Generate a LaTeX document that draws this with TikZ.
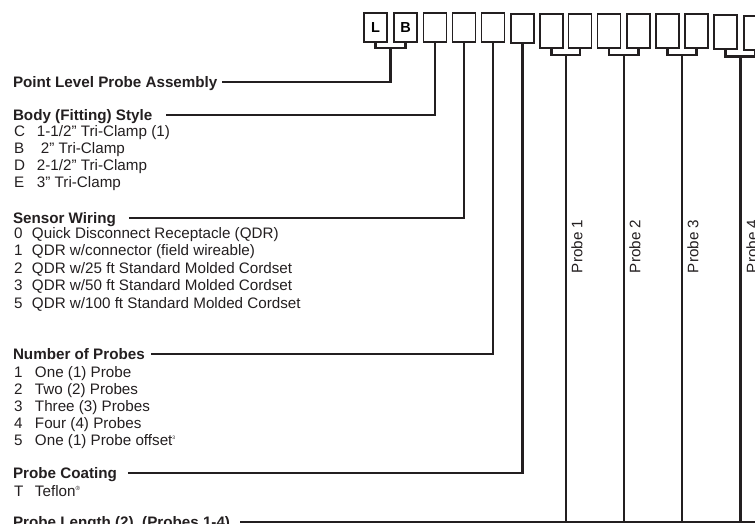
\documentclass[tikz,border=0pt]{standalone}
\usepackage{fontspec}
\setmainfont{Liberation Sans}
\usetikzlibrary{calc}
\definecolor{ink}{RGB}{35,31,32}
\begin{document}
\begin{tikzpicture}[x=1pt,y=-1pt,
  hd/.style={font=\fontsize{15.2}{17}\selectfont\bfseries, text=ink, inner sep=0pt, outer sep=0pt, text height=10.9pt, text depth=0pt, anchor=west},
  itm/.style={font=\fontsize{15.2}{17}\selectfont, text=ink, inner sep=0pt, outer sep=0pt, text height=10.9pt, text depth=0pt, anchor=west},
  lead/.style={draw=ink, line width=2.2pt},
  bx/.style={draw=ink, line width=1.3pt, minimum width=23pt, minimum height=29pt, inner sep=0pt, outer sep=0pt, font=\fontsize{14.5}{14.5}\selectfont\bfseries, text=black},
  pbx/.style={bx, minimum height=34pt},
  plabel/.style={itm, rotate=90}
]
\useasboundingbox (0,0) rectangle (755,523);
\clip (0,0) rectangle (755,523);

% code boxes
\node[bx] (b1) at (375.5,27.5) {L};
\node[bx] (b2) at (405.5,27.5) {B};
\node[bx] (b3) at (435,27.5) {};
\node[bx] (b4) at (464,27.5) {};
\node[bx] (b5) at (493,27.5) {};
\node[bx] (b6) at (522.5,28.5) {};
\node[pbx] (b7) at (551.5,31) {};
\node[pbx] (b8) at (580,31) {};
\node[pbx] (b9) at (609,31) {};
\node[pbx] (b10) at (638.5,31) {};
\node[pbx] (b11) at (667.5,31) {};
\node[pbx] (b12) at (696.5,31) {};
\node[pbx] (b13) at (725.5,32) {};
\node[pbx] (b14) at (755.5,33) {};

% headings
\node[hd] (h1) at (13,82) {Point Level Probe Assembly};
\node[hd] (h2) at (13,115) {Body (Fitting) Style};
\node[hd] (h3) at (13,218) {Sensor Wiring};
\node[hd] (h4) at (13,354) {Number of Probes};
\node[hd] (h5) at (13,473) {Probe Coating};
\node[hd] (h6) at (13,522) {Probe Length (2)\ \ (Probes 1-4)};

% items
\node[itm] (c1) at (14,131.5) {\makebox[23pt][l]{C}1-1/2” Tri-Clamp (1)};
\node[itm] (c2) at (14,148.5) {\makebox[27pt][l]{B}2” Tri-Clamp};
\node[itm] (c3) at (14,165.5) {\makebox[23pt][l]{D}2-1/2” Tri-Clamp};
\node[itm] (c4) at (14,182.5) {\makebox[23pt][l]{E}3” Tri-Clamp};

\node[itm] (s1) at (14,233) {\makebox[18pt][l]{0}Quick Disconnect Receptacle (QDR)};
\node[itm] (s2) at (14,250.5) {\makebox[18pt][l]{1}QDR w/connector (field wireable)};
\node[itm] (s3) at (14,268) {\makebox[18pt][l]{2}QDR w/25 ft Standard Molded Cordset};
\node[itm] (s4) at (14,285.5) {\makebox[18pt][l]{3}QDR w/50 ft Standard Molded Cordset};
\node[itm] (s5) at (14,303) {\makebox[18pt][l]{5}QDR w/100 ft Standard Molded Cordset};

\node[itm] (n1) at (14,372) {\makebox[21pt][l]{1}One (1) Probe};
\node[itm] (n2) at (14,389) {\makebox[21pt][l]{2}Two (2) Probes};
\node[itm] (n3) at (14,406) {\makebox[21pt][l]{3}Three (3) Probes};
\node[itm] (n4) at (14,423) {\makebox[21pt][l]{4}Four (4) Probes};
\node[itm] (n5) at (14,440) {\makebox[21pt][l]{5}One (1) Probe offset\raisebox{6pt}{\fontsize{5}{5}\selectfont 3}};

\node[itm] (t1) at (14,491) {\makebox[21pt][l]{T}Teflon\raisebox{6pt}{\fontsize{6}{6}\selectfont ®}};

% brackets
\coordinate (j1) at ($(b1.south)!0.5!(b2.south)+(0,6)$);
\draw[lead] (b1.south) |- (j1) -| (b2.south);
\coordinate (j2) at ($(b7.south)!0.5!(b8.south)+(0,7)$);
\draw[lead] (b7.south) |- (j2) -| (b8.south);
\coordinate (j3) at ($(b9.south)!0.5!(b10.south)+(0,7)$);
\draw[lead] (b9.south) |- (j3) -| (b10.south);
\coordinate (j4) at ($(b11.south)!0.5!(b12.south)+(0,7)$);
\draw[lead] (b11.south) |- (j4) -| (b12.south);
\coordinate (j5) at ($(b13.south)!0.5!(b14.south)+(0,7)$);
\draw[lead] (b13.south) |- (j5) -| (b14.south);

% leaders
\draw[lead] ([xshift=5pt]h1.east) -| (j1);
\draw[lead] ([xshift=14pt]h2.east) -| (b3.south);
\draw[lead] ([xshift=13pt]h3.east) -| (b4.south);
\draw[lead] ([xshift=6pt]h4.east) -| (b5.south);
\draw[lead] ([xshift=11pt]h5.east) -| (b6.south);
\coordinate (edge) at (760,522);
\draw[lead] ([xshift=10pt]h6.east) -- (edge);
\draw[lead] (j2) -- (j2 |- edge);
\draw[lead] (j3) -- (j3 |- edge);
\draw[lead] (j4) -- (j4 |- edge);
\draw[lead] (j5) -- (j5 |- edge);

% probe labels
\node[plabel] (p1) at (577,273) {Probe 1};
\node[plabel] (p2) at (635,273) {Probe 2};
\node[plabel] (p3) at (693,273) {Probe 3};
\node[plabel] (p4) at (752,273) {Probe 4};
\end{tikzpicture}
\end{document}
